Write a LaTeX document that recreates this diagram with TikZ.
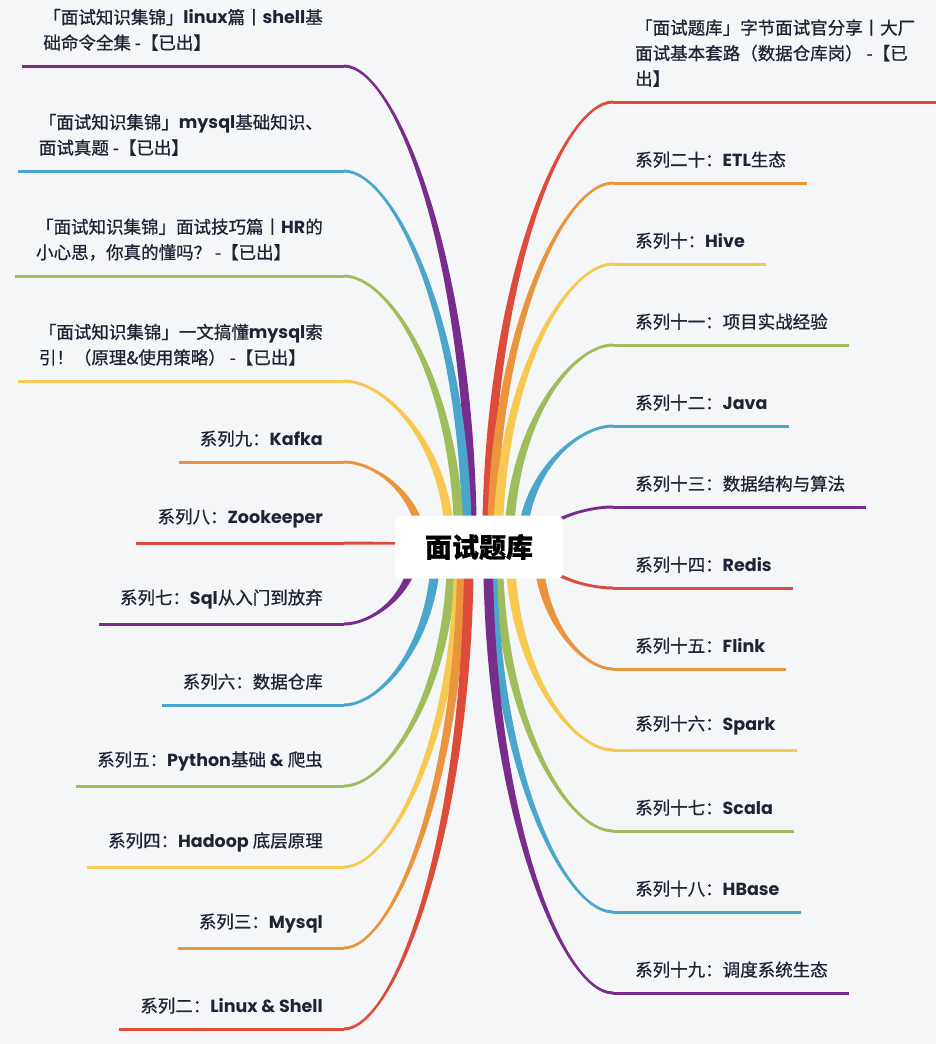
\documentclass[tikz,border=0pt]{standalone}
\usepackage{fontspec}
\setmainfont{Noto Sans CJK SC}[FakeBold=0.8]
\newfontfamily\latf{Poppins}
\usetikzlibrary{calc}

\definecolor{bg}{RGB}{245,246,248}
\definecolor{ink}{RGB}{30,36,52}
\definecolor{cRed}{RGB}{221,76,58}
\definecolor{cOrange}{RGB}{235,148,62}
\definecolor{cYellow}{RGB}{247,201,80}
\definecolor{cGreen}{RGB}{160,189,92}
\definecolor{cBlue}{RGB}{74,167,203}
\definecolor{cPurple}{RGB}{120,44,140}

\newcommand\lat[1]{{\latf\bfseries #1}}
\newcommand\tipw{1.5}
\newcommand\rootw{4.8}
% tapered branch: #1 start, #2 end, #3 colour, #4 side (1 left, -1 right), #5 up/down
\newcommand\branch[5]{%
  \fill[#3] ($(#2)+(0,#5*\tipw)$)
    .. controls ($(#2)!0.4!(#2 -| #1)+(0,#5*\tipw)$) and ($(#1)!0.6!(#1 |- #2)+(#4*\rootw,0)$)
    .. ($(#1)+(#4*\rootw,0)$) -- ($(#1)-(#4*\rootw,0)$)
    .. controls ($(#1)!0.6!(#1 |- #2)-(#4*\rootw,0)$) and ($(#2)!0.4!(#2 -| #1)-(0,#5*\tipw)$)
    .. ($(#2)-(0,#5*\tipw)$) -- cycle;}

\tikzset{
  leaf/.style={inner sep=0pt, align=left, text=ink, font=\fontsize{17.5}{25.5}\selectfont},
  ul/.style={line width=3pt},
  root/.style={fill=white, rounded corners=6pt, minimum width=168pt, minimum height=63pt,
    inner sep=0pt, text=black, font=\fontsize{27}{30}\selectfont\bfseries}
}

\begin{document}
\begin{tikzpicture}[x=1pt,y=-1pt]
  \fill[bg] (0,0) rectangle (936,1044);
  \useasboundingbox (0,0) rectangle (936,1044);
  \coordinate (c) at (479,547);

  % left side
  \foreach \i/\sx/\ey/\col/\txt in {
      1/472/66/cPurple/{「面试知识集锦」\lat{linux}篇丨\lat{shell}基\\础命令全集 -【已出】},
      2/467/171/cBlue/{「面试知识集锦」\lat{mysql}基础知识、\\面试真题 -【已出】},
      3/459/276/cGreen/{「面试知识集锦」面试技巧篇丨\lat{HR}的\\小心思，你真的懂吗？ -【已出】},
      4/450/381/cYellow/{「面试知识集锦」一文搞懂\lat{mysql}索\\引！（原理\&使用策略） -【已出】},
      5/422/462/cOrange/{系列九：\lat{Kafka}},
      6/479/543/cRed/{系列八：\lat{Zookeeper}},
      7/415/624/cPurple/{系列七：\lat{Sql}从入门到放弃},
      8/436/705/cBlue/{系列六：数据仓库},
      9/452/786/cGreen/{系列五：\lat{Python}基础 \lat{\&} 爬虫},
      10/459/867/cYellow/{系列四：\lat{Hadoop} 底层原理},
      11/462/948/cOrange/{系列三：\lat{Mysql}},
      12/469/1029/cRed/{系列二：\lat{Linux \& Shell}}}{
    \pgfmathsetmacro\v{\ey<547 ? -1 : 1}
    \coordinate (ls\i) at (\sx,547);
    \coordinate (le\i) at (344,\ey);
    \node[leaf,anchor=south east] (lt\i) at ([xshift=-21pt,yshift=15pt]le\i) {\txt};
    \branch{ls\i}{le\i}{\col}{1}{\v}
    \draw[ul,\col] (le\i) -- ($(lt\i.west |- le\i)+(-21,0)$);
  }

  % right side
  \foreach \i/\sx/\ey/\col/\txt in {
      1/487/102/cRed/{「面试题库」字节面试官分享丨大厂\\面试基本套路（数据仓库岗） -【已\\出】},
      2/492/183/cOrange/{系列二十：\lat{ETL}生态},
      3/498/264/cYellow/{系列十：\lat{Hive}},
      4/509/345/cGreen/{系列十一：项目实战经验},
      5/522/426/cBlue/{系列十二：\lat{Java}},
      6/535/507/cPurple/{系列十三：数据结构与算法},
      7/535/588/cRed/{系列十四：\lat{Redis}},
      8/538/669/cOrange/{系列十五：\lat{Flink}},
      9/510/750/cYellow/{系列十六：\lat{Spark}},
      10/498/831/cGreen/{系列十七：\lat{Scala}},
      11/492/912/cBlue/{系列十八：\lat{HBase}},
      12/488/993/cPurple/{系列十九：调度系统生态}}{
    \pgfmathsetmacro\v{\ey<547 ? -1 : 1}
    \coordinate (rs\i) at (\sx,547);
    \coordinate (re\i) at (613,\ey);
    \node[leaf,anchor=south west] (rt\i) at ([xshift=22pt,yshift=15pt]re\i) {\txt};
    \branch{rs\i}{re\i}{\col}{-1}{\v}
    \draw[ul,\col] (re\i) -- ($(rt\i.east |- re\i)+(21,0)$);
  }

  \node[root] (root) at (c) {面试题库};
\end{tikzpicture}
\end{document}
